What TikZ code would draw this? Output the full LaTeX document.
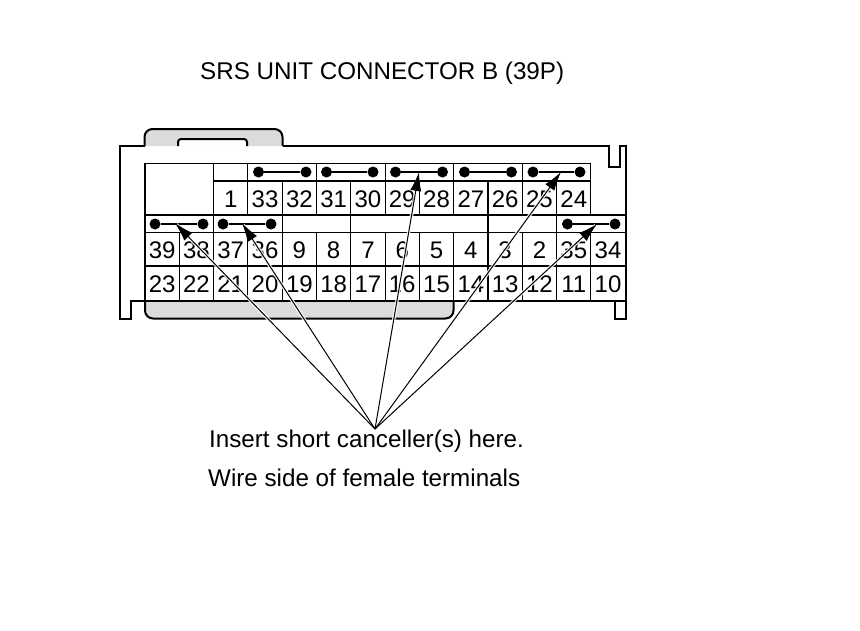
\documentclass[tikz,border=0pt]{standalone}
\usepackage{fontspec}
\setmainfont{Liberation Sans}
\usetikzlibrary{arrows.meta}
\definecolor{housing}{gray}{.86}
\tikzset{
	wall/.style = {line width=2pt, black},
	cell/.style = {draw, line width=1.1pt, black},
	pinnum/.style = {font=\fontsize{24}{24}\selectfont, inner sep=0pt, anchor=base},
	caption/.style = {font=\fontsize{24.2}{26}\selectfont, inner sep=0pt, anchor=base west},
	bridgepin/.style = {circle, fill=black, minimum size=11pt, inner sep=0pt},
	halo/.style = {white, line width=3.5pt, opacity=.85, shorten >=2pt},
	leader/.style = {black, line width=1pt, -{Latex[length=19pt,width=11pt]}}
}

\begin{document}
\begin{tikzpicture}[x=1pt, y=-1pt]

	\useasboundingbox (0,0) rectangle (860,630);

	% grey parts of the housing
	\draw[wall, fill=housing, rounded corners=8pt] (144.5,146) -- (144.5,129) -- (282.5,129) -- (282.5,146);
	\draw[wall, fill=white, rounded corners=3pt] (178,146) -- (178,139) -- (247,139) -- (247,146);
	\draw[wall, fill=housing, rounded corners=8pt] (145,301) -- (145,318.5) -- (453.5,318.5) -- (453.5,301);

	% outline
	\draw[wall] (144.5,146) -- (120,146) -- (120,318.5) -- (131,318.5) -- (131,301) -- (145,301);
	\draw[wall] (282.5,146) -- (609,146) -- (609,166.5) -- (619.5,166.5) -- (619.5,146) -- (625.5,146) -- (625.5,318.5) -- (615,318.5) -- (615,301) -- (453.5,301);

	% cells
	\foreach \xa/\xb in {213.6/247.9, 247.9/316.5, 316.5/385.1, 385.1/453.7, 453.7/522.3, 522.3/590.9}
		\draw[cell] (\xa,163.5) rectangle (\xb,181);
	\draw[cell] (145,163.5) rectangle (213.6,215);
	\foreach \i in {2,...,12}
		\draw[cell] ({145+34.3*\i},181) rectangle ({145+34.3*(\i+1)},215);
	\foreach \xa/\xb in {145/213.6, 213.6/282.2, 282.2/350.8, 350.8/488, 488/556.6, 556.6/625.2}
		\draw[cell] (\xa,215) rectangle (\xb,232.5);
	\foreach \i in {0,...,13} {
		\draw[cell] ({145+34.3*\i},232.5) rectangle ({145+34.3*(\i+1)},266);
		\draw[cell] ({145+34.3*\i},266) rectangle ({145+34.3*(\i+1)},301);
	}

	% terminal numbers
	\foreach \n [count=\i from 2] in {1,33,32,31,30,29,28,27,26,25,24}
		\node[pinnum] (pin\n) at ({145+34.3*(\i+.5)},207) {\n};
	\foreach \n [count=\i from 0] in {39,38,37,36,9,8,7,6,5,4,3,2,35,34}
		\node[pinnum] (pin\n) at ({145+34.3*(\i+.5)},258) {\n};
	\foreach \n [count=\i from 0] in {23,22,21,20,19,18,17,16,15,14,13,12,11,10}
		\node[pinnum] (pin\n) at ({145+34.3*(\i+.5)},292.5) {\n};

	% shorting bridges
	\foreach \name/\xa/\xb/\yb in {a/258.5/306/172, b/326.5/373/172, c/395.5/442.5/172, d/464.5/511.5/172, e/533/580/172, f/155/203/224, g/223/271/224, h/567.5/615/224} {
		\node[bridgepin] (\name l) at (\xa,\yb) {};
		\node[bridgepin] (\name r) at (\xb,\yb) {};
		\draw[line width=2.2pt] (\name l) -- (\name r);
	}

	% leaders
	\coordinate (apex) at (375,429);
	\coordinate (tipf) at (175,223);
	\coordinate (tipg) at (242,223);
	\coordinate (tipc) at (419,172);
	\coordinate (tipe) at (561,172);
	\coordinate (tiph) at (597,224);
	\foreach \tip in {tipf, tipg, tipc, tipe, tiph}
		\draw[halo] (apex) -- (\tip);
	\foreach \tip in {tipf, tipg, tipc, tipe, tiph}
		\draw[leader] (apex) -- (\tip);

	\node[caption] (title) at (200,79) {SRS UNIT CONNECTOR B (39P)};
	\node[caption] (insert) at (209,447) {Insert short canceller(s) here.};
	\node[caption] (wire) at (208,486) {Wire side of female terminals};

\end{tikzpicture}
\end{document}
